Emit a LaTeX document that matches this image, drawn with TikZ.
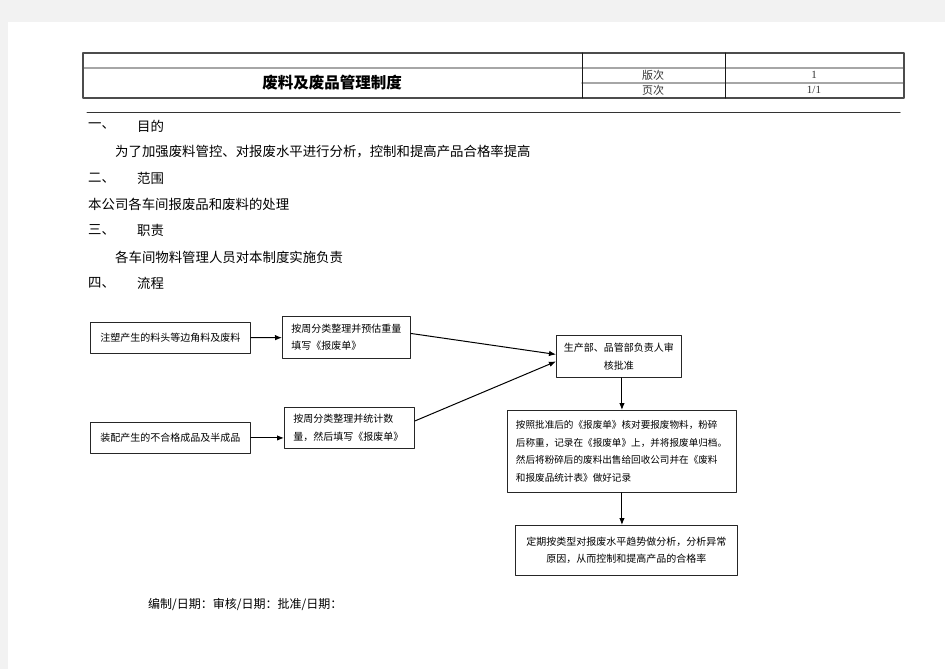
\documentclass[tikz,border=0pt]{standalone}
\usepackage{fontspec}
\setmainfont{Noto Sans CJK SC}
\newfontfamily\numfont{Liberation Serif}
\usetikzlibrary{positioning, arrows.meta}
\tikzset{>={Latex[length=7pt,width=5.5pt]}}
\tikzset{flowbox/.style={draw=black!85, line width=0.9pt, inner sep=0pt, anchor=north west, font=\fontsize{10}{17.5}\selectfont}}
\tikzset{bodytext/.style={anchor=west, inner sep=0pt, font=\fontsize{13.4}{16}\selectfont}}
\tikzset{cell/.style={inner sep=0pt, text=black!80, font=\fontsize{11}{12}\selectfont}}

\begin{document}
\begin{tikzpicture}[x=1pt, y=-1pt, line cap=round, line join=round]

	% Page
	\fill[black!5] (0,0) rectangle (945,669);
	\fill[white] (8,22) rectangle (945,669);
	\useasboundingbox (0,0) rectangle (945,669);

	% Header Table
	\draw[black!35, line width=2pt] (83,68) -- (904,68);
	\draw[black!35, line width=2pt] (582,83) -- (904,83);
	\draw[black!70, line width=1.3pt] (83,53) rectangle (904,98);
	\draw[black!90, line width=1pt] (582,53) -- (582,98);
	\draw[black!90, line width=1pt] (725,53) -- (725,98);
	\node[inner sep=0pt, font=\fontsize{15.5}{18}\selectfont\bfseries] (title) at (332,83) {废料及废品管理制度};
	\node[cell] (ver) at (653,75) {版次};
	\node[cell] (vernum) at (814,75) {\numfont 1};
	\node[cell] (pg) at (653,90) {页次};
	\node[cell] (pgnum) at (814,90) {\numfont 1/1};
	\draw[black!80, line width=1pt] (87,112) -- (900,112);

	% Sections
	\node[bodytext] (h1) at (88,126) {一、};
	\node[bodytext] (h1t) at (137,126) {目的};
	\node[bodytext] (p1) at (115,152) {为了加强废料管控、对报废水平进行分析，控制和提高产品合格率提高};
	\node[bodytext] (h2) at (88,178) {二、};
	\node[bodytext] (h2t) at (137,178) {范围};
	\node[bodytext] (p2) at (88,204) {本公司各车间报废品和废料的处理};
	\node[bodytext] (h3) at (88,230) {三、};
	\node[bodytext] (h3t) at (137,230) {职责};
	\node[bodytext] (p3) at (115,257) {各车间物料管理人员对本制度实施负责};
	\node[bodytext] (h4) at (88,283) {四、};
	\node[bodytext] (h4t) at (137,283) {流程};

	% Flow
	\node[flowbox, minimum width=160pt, minimum height=31pt] (b1) at (90,322) {注塑产生的料头等边角料及废料};
	\node[flowbox, minimum width=128pt, minimum height=42pt, text width=110pt, align=left] (b2) at (282,316) {按周分类整理并预估重量\\填写《报废单》};
	\node[flowbox, minimum width=160pt, minimum height=31pt] (b3) at (90,422) {装配产生的不合格成品及半成品};
	\node[flowbox, minimum width=130pt, minimum height=41pt, text width=112pt, align=left] (b4) at (284,407) {按周分类整理并统计数\\量，然后填写《报废单》};
	\node[flowbox, minimum width=125pt, minimum height=42pt, align=center] (b5) at (556,335) {生产部、品管部负责人审\\核批准};
	\node[flowbox, minimum width=229pt, minimum height=82pt, text width=212pt, align=left, font=\fontsize{9.6}{17.5}\selectfont] (b6) at (507,410) {按照批准后的《报废单》核对要报废物料，粉碎\\后称重，记录在《报废单》上，并将报废单归档。\\然后将粉碎后的废料出售给回收公司并在《废料\\和报废品统计表》做好记录};
	\node[flowbox, minimum width=222pt, minimum height=50pt, align=center] (b7) at (515,525) {定期按类型对报废水平趋势做分析，分析异常\\原因，从而控制和提高产品的合格率};

	% Connectors
	\draw[->, line width=1pt] (b1) -- (b2);
	\draw[->, line width=1pt] (b3.east) -- (b3.east -| b4.west);
	\draw[->, line width=1pt] ([yshift=4pt]b2.east) -- ([yshift=2pt]b5.west);
	\draw[->, line width=1pt] ([yshift=7pt]b4.east) -- ([yshift=-5pt]b5.west);
	\draw[->, line width=1pt] (b5.south -| b6.north) -- (b6.north);
	\draw[->, line width=1pt] (b6.south) -- (b6.south |- b7.north);

	% Sign-off
	\node[bodytext, font=\fontsize{12}{14}\selectfont] (sign) at (148,604) {编制/日期：审核/日期：批准/日期：};
\end{tikzpicture}
\end{document}
